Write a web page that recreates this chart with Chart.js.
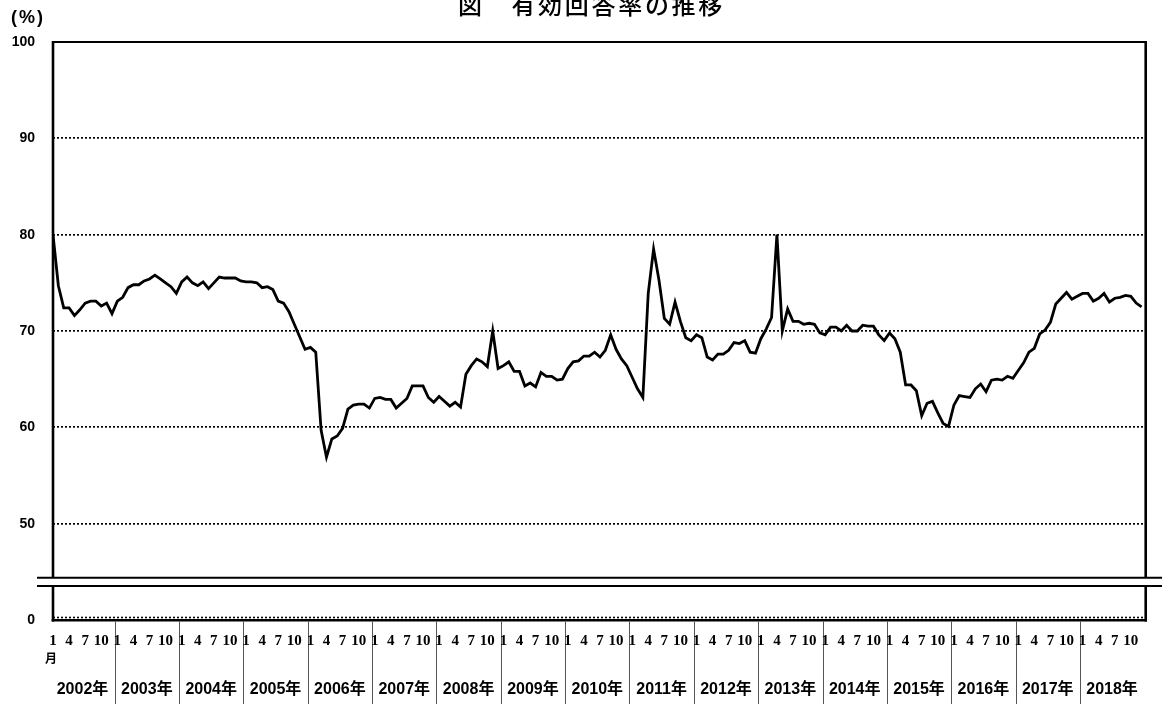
<!DOCTYPE html>
<html>
<head>
<meta charset="utf-8">
<script src="https://cdn.jsdelivr.net/npm/chart.js@4"></script>
<style>
html,body{margin:0;padding:0;background:#fff;}
canvas{display:block;}
</style>
</head>
<body>
<canvas id="c" width="1162" height="704"></canvas>
<script>
// ---- data ----
const years = ['2002年','2003年','2004年','2005年','2006年','2007年','2008年','2009年','2010年','2011年','2012年','2013年','2014年','2015年','2016年','2017年','2018年'];
const monthTickMonths = [1, 4, 7, 10];
const yTickValues = [40, 50, 60, 70, 80, 90, 100];   // 40 is shown as "0" (axis break)
const yTickLabels = ['0', '50', '60', '70', '80', '90', '100'];
const titleText = '図　有効回答率の推移';
const unitText = '(%)';

const rate2002 = [80.0, 74.7, 72.4, 72.4, 71.6, 72.2, 72.9, 73.1, 73.1, 72.6, 72.9, 71.8];
const rate2003 = [73.1, 73.5, 74.5, 74.8, 74.8, 75.2, 75.4, 75.8, 75.4, 75.0, 74.6, 73.9];
const rate2004 = [75.1, 75.6, 75.0, 74.7, 75.1, 74.4, 75.0, 75.6, 75.5, 75.5, 75.5, 75.2];
const rate2005 = [75.1, 75.1, 75.0, 74.5, 74.6, 74.3, 73.1, 72.9, 72.0, 70.7, 69.4, 68.1];
const rate2006 = [68.3, 67.8, 59.7, 56.9, 58.8, 59.1, 59.9, 61.9, 62.3, 62.4, 62.4, 62.0];
const rate2007 = [63.0, 63.1, 62.9, 62.9, 62.0, 62.5, 63.0, 64.3, 64.3, 64.3, 63.1, 62.6];
const rate2008 = [63.2, 62.7, 62.2, 62.6, 62.1, 65.5, 66.4, 67.1, 66.8, 66.3, 70.0, 66.1];
const rate2009 = [66.4, 66.8, 65.8, 65.8, 64.3, 64.6, 64.2, 65.7, 65.3, 65.3, 64.9, 65.0];
const rate2010 = [66.1, 66.8, 66.9, 67.4, 67.4, 67.8, 67.3, 68.0, 69.6, 68.1, 67.1, 66.4];
const rate2011 = [65.2, 64.0, 63.1, 73.9, 78.5, 75.3, 71.3, 70.7, 73.0, 71.0, 69.3, 69.0];
const rate2012 = [69.6, 69.3, 67.3, 67.0, 67.6, 67.6, 68.0, 68.8, 68.7, 69.0, 67.8, 67.7];
const rate2013 = [69.2, 70.2, 71.4, 80.0, 70.0, 72.3, 71.0, 71.0, 70.7, 70.8, 70.7, 69.8];
const rate2014 = [69.6, 70.4, 70.4, 70.0, 70.6, 70.0, 70.0, 70.6, 70.5, 70.5, 69.6, 69.0];
const rate2015 = [69.8, 69.2, 67.8, 64.4, 64.4, 63.8, 61.2, 62.5, 62.7, 61.5, 60.4, 60.1];
const rate2016 = [62.3, 63.3, 63.2, 63.1, 64.0, 64.5, 63.7, 64.9, 65.0, 64.9, 65.3, 65.1];
const rate2017 = [65.9, 66.7, 67.8, 68.2, 69.7, 70.1, 70.9, 72.8, 73.4, 74.0, 73.3, 73.6];
const rate2018 = [73.9, 73.9, 73.1, 73.4, 73.9, 73.0, 73.4, 73.5, 73.7, 73.6, 72.9, 72.5];

const rates = [].concat(rate2002, rate2003, rate2004, rate2005, rate2006, rate2007, rate2008,
  rate2009, rate2010, rate2011, rate2012, rate2013, rate2014, rate2015, rate2016, rate2017, rate2018);
const points = rates.map((v, i) => ({x: i, y: v}));

// ---- decoration plugin ----
const deco = {
  id: 'deco',
  beforeDraw(chart) {
    const ctx = chart.ctx;
    ctx.save();
    ctx.fillStyle = '#fff';
    ctx.fillRect(0, 0, chart.width, chart.height);
    ctx.restore();
  },
  afterDraw(chart) {
    const ctx = chart.ctx;
    const a = chart.chartArea;
    const xs = chart.scales.x;
    ctx.save();
    ctx.strokeStyle = '#000';
    ctx.lineCap = 'butt';

    // bottom dotted line just above the axis
    ctx.setLineDash([2, 2]);
    ctx.lineWidth = 1.6;
    ctx.beginPath();
    ctx.moveTo(a.left, a.bottom - 2.5);
    ctx.lineTo(a.right, a.bottom - 2.5);
    ctx.stroke();
    ctx.setLineDash([]);

    // frame
    ctx.lineWidth = 2;
    ctx.beginPath();
    ctx.moveTo(a.left, a.top);
    ctx.lineTo(a.right, a.top);
    ctx.stroke();
    ctx.lineWidth = 2.6;
    ctx.beginPath();
    ctx.moveTo(a.left, a.top - 1);
    ctx.lineTo(a.left, a.bottom + 1.5);
    ctx.moveTo(a.right, a.top - 1);
    ctx.lineTo(a.right, a.bottom + 1.5);
    ctx.stroke();
    ctx.lineWidth = 2.4;
    ctx.beginPath();
    ctx.moveTo(a.left - 1.3, a.bottom + 0.3);
    ctx.lineTo(a.right + 1.3, a.bottom + 0.3);
    ctx.stroke();

    // axis break
    const b1 = 577.7, b2 = 586;
    ctx.fillStyle = '#fff';
    ctx.fillRect(37, b1, chart.width - 37, b2 - b1);
    ctx.lineWidth = 2;
    ctx.beginPath();
    ctx.moveTo(37, b1);
    ctx.lineTo(chart.width, b1);
    ctx.moveTo(37, b2);
    ctx.lineTo(chart.width, b2);
    ctx.stroke();

    // year separators
    ctx.strokeStyle = '#555';
    ctx.lineWidth = 1;
    ctx.beginPath();
    for (let k = 0; k < years.length - 1; k++) {
      const x = Math.round(xs.getPixelForValue(k * 12 + 11.5)) + 0.5;
      ctx.moveTo(x, a.bottom + 1.5);
      ctx.lineTo(x, chart.height);
    }
    ctx.stroke();

    // month labels
    ctx.fillStyle = '#000';
    ctx.textAlign = 'center';
    ctx.textBaseline = 'middle';
    ctx.font = 'bold 15px "Liberation Serif", "DejaVu Serif", serif';
    years.forEach((y, k) => {
      monthTickMonths.forEach(m => {
        ctx.fillText(String(m), xs.getPixelForValue(k * 12 + m - 1), 641);
      });
    });
    ctx.font = 'bold 12px "Noto Sans CJK JP", sans-serif';
    ctx.fillText('月', xs.getPixelForValue(0) - 2, 658);

    // year labels
    ctx.font = 'bold 16px "Liberation Sans", "Noto Sans CJK JP", sans-serif';
    years.forEach((y, k) => {
      ctx.fillText(y, xs.getPixelForValue(k * 12 + 5.5), 690);
    });

    // unit
    ctx.font = 'bold 18px "Liberation Sans", "Noto Sans CJK JP", sans-serif';
    ctx.letterSpacing = '2px';
    ctx.textAlign = 'left';
    ctx.fillText(unitText, 11, 18);

    // title
    ctx.font = '500 24px "Noto Sans CJK JP", sans-serif';
    ctx.letterSpacing = '2.7px';
    ctx.textAlign = 'left';
    ctx.textBaseline = 'alphabetic';
    ctx.fillText(titleText, 458, 13.5);
    ctx.restore();
  }
};

new Chart(document.getElementById('c'), {
  type: 'line',
  data: {
    datasets: [{
      data: points,
      borderColor: '#000',
      borderWidth: 2.8,
      pointRadius: 0,
      tension: 0,
      fill: false
    }]
  },
  options: {
    responsive: false,
    animation: false,
    events: [],
    layout: { padding: { left: 0, right: 16.3, top: 42, bottom: 84 } },
    plugins: { legend: { display: false }, tooltip: { enabled: false }, title: { display: false } },
    scales: {
      x: {
        type: 'linear',
        display: false,
        min: 0,
        max: 203.77
      },
      y: {
        type: 'linear',
        min: 40,
        max: 100,
        afterFit(scale) { scale.width = 53; },
        afterBuildTicks(scale) { scale.ticks = yTickValues.map(v => ({ value: v })); },
        ticks: {
          padding: 18,
          color: '#000',
          font: { family: '"Liberation Sans", sans-serif', size: 14, weight: 'bold' },
          callback(v) { const i = yTickValues.indexOf(v); return i >= 0 ? yTickLabels[i] : ''; }
        },
        grid: {
          drawTicks: false,
          lineWidth: 1.7,
          color(ctx) {
            const v = ctx.tick && ctx.tick.value;
            return (v > 40 && v < 100) ? '#000' : 'rgba(0,0,0,0)';
          }
        },
        border: { display: false, dash: [2, 2] }
      }
    }
  },
  plugins: [deco]
});
</script>
</body>
</html>
